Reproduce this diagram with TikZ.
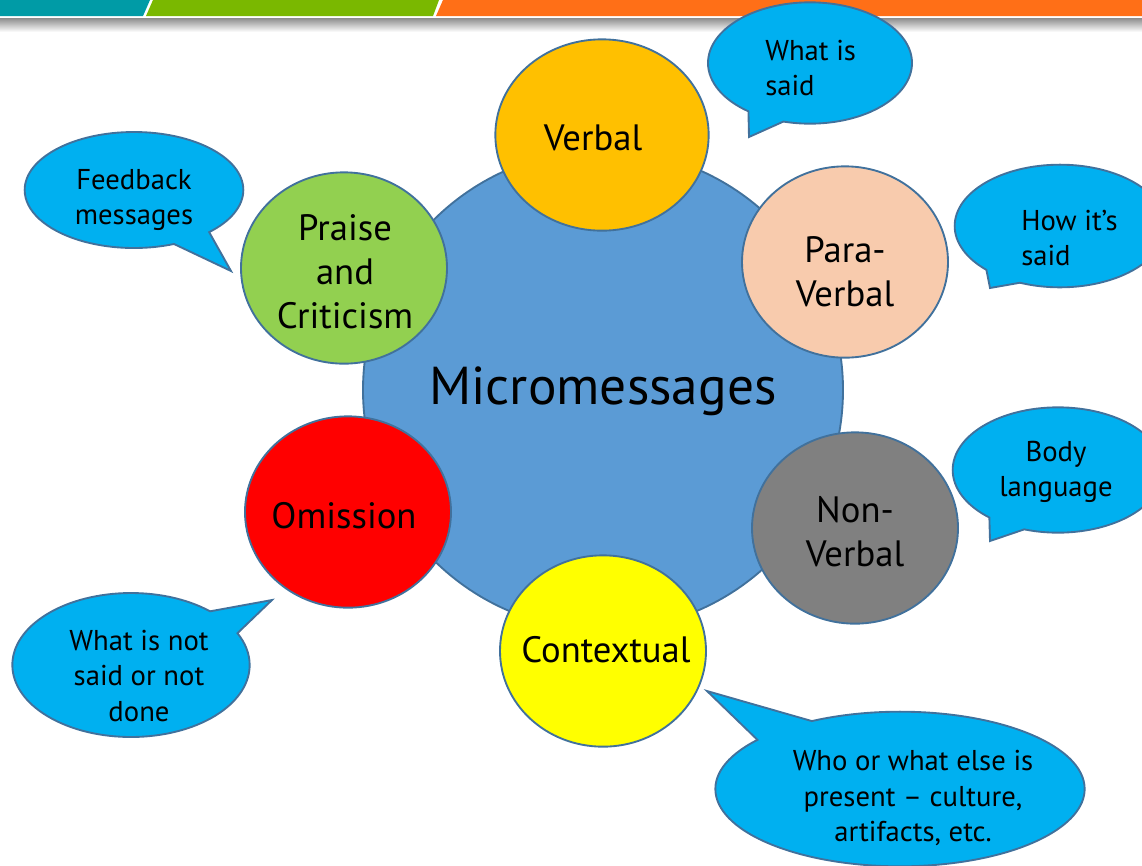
\documentclass[tikz,border=0pt]{standalone}
\usepackage{fontspec}
\setmainfont{PT Sans}
\usepackage{xcolor}
\usepackage{tikz}
\usetikzlibrary{shapes.geometric,shapes.callouts}
\definecolor{rim}{RGB}{65, 113, 156}
\definecolor{hub}{RGB}{91, 155, 213}
\definecolor{verbalc}{RGB}{255, 192, 0}
\definecolor{parac}{RGB}{248, 203, 173}
\definecolor{nonc}{RGB}{128, 128, 128}
\definecolor{contc}{RGB}{255, 255, 0}
\definecolor{omitc}{RGB}{255, 0, 0}
\definecolor{praisec}{RGB}{146, 208, 80}
\definecolor{bubble}{RGB}{0, 176, 240}
\definecolor{bandteal}{RGB}{0, 155, 166}
\definecolor{bandlime}{RGB}{122, 184, 0}
\definecolor{bandorange}{RGB}{255, 111, 23}

\begin{document}
\begin{tikzpicture}[x=0.75pt,y=0.75pt,yscale=-1,xscale=1,
  disc/.style={ellipse, draw=rim, line width=1.4pt, minimum width=154.5pt, minimum height=143.5pt, inner sep=0pt},
  bub/.style={ellipse callout, draw=rim, line width=1.4pt, fill=bubble, inner sep=0pt, callout pointer arc=22},
  disctext/.style={inner sep=0pt, align=center, font=\fontsize{27.5}{33}\selectfont},
  bubtext/.style={inner sep=0pt, align=center, font=\fontsize{21.5}{26.3}\selectfont}]
\useasboundingbox (0,0) rectangle (1142,865);
\clip (0,0) rectangle (1142,865);

%Shape: Band strips
\fill [bandteal] (0,0) -- (150,0) -- (143,16) -- (0,16) -- cycle ;
\fill [bandlime] (153,0) -- (439,0) -- (433,16) -- (146,16) -- cycle ;
\fill [bandorange] (443,0) -- (1142,0) -- (1142,16) -- (436,16) -- cycle ;
\shade [top color=black!45, bottom color=white] (0,18) rectangle (1142,32) ;

%Shape: Circle (centre)
\node [disc, fill=hub, minimum width=360pt, minimum height=360pt] (micro) at (603,390) {};

%Shape: Ellipses round it
\node [disc, fill=verbalc, minimum width=160pt] (verbal) at (602,135) {};
\node [disc, fill=parac] (para) at (845,262) {};
\node [disc, fill=nonc] (nonverbal) at (855,528) {};
\node [disc, fill=contc] (context) at (603,651) {};
\node [disc, fill=omitc] (omission) at (348,512) {};
\node [disc, fill=praisec] (praise) at (344,268) {};

%Shape: Callouts
\node [bub, minimum width=153pt, minimum height=91pt, callout absolute pointer={(749,137)}] (said) at (810,63) {};
\node [bub, minimum width=164pt, minimum height=87pt, callout absolute pointer={(231,271)}] (feedback) at (134,190) {};
\node [bub, minimum width=158pt, minimum height=92pt, callout absolute pointer={(990,288)}] (howsaid) at (1060,226) {};
\node [bub, minimum width=158pt, minimum height=94pt, callout absolute pointer={(990,541)}] (body) at (1058,470) {};
\node [bub, minimum width=178pt, minimum height=108pt, callout absolute pointer={(272,600)}] (notsaid) at (131,665) {};
\node [bub, minimum width=277pt, minimum height=116pt, callout absolute pointer={(707,691)}] (present) at (900,789) {};

% Text Node
\node [disctext, font=\fontsize{40}{48}\selectfont] (microtxt) at (603,391) {Micromessages};
% Text Node
\node [disctext] (verbaltxt) at (593,138) {Verbal};
% Text Node
\node [disctext] (paratxt) at (845,272) {Para-\\Verbal};
% Text Node
\node [disctext] (nonverbaltxt) at (855,532) {Non-\\Verbal};
% Text Node
\node [disctext] (contexttxt) at (606,650) {Contextual};
% Text Node
\node [disctext] (omissiontxt) at (344,516) {Omission};
% Text Node
\node [disctext] (praisetxt) at (345,272) {Praise\\and\\Criticism};
% Text Node
\node [bubtext, anchor=west, align=left] (saidtxt) at (765,68) {What is\\said};
% Text Node
\node [bubtext] (feedbacktxt) at (134,200) {Feedback\\messages};
% Text Node
\node [bubtext, anchor=west, align=left] (howsaidtxt) at (1021,238) {How it’s\\said};
% Text Node
\node [bubtext] (bodytxt) at (1056,472) {Body\\language};
% Text Node
\node [bubtext] (notsaidtxt) at (139,676) {What is not\\said or not\\done};
% Text Node
\node [bubtext] (presenttxt) at (913,798) {Who or what else is\\present – culture,\\artifacts, etc.};

\end{tikzpicture}
\end{document}
